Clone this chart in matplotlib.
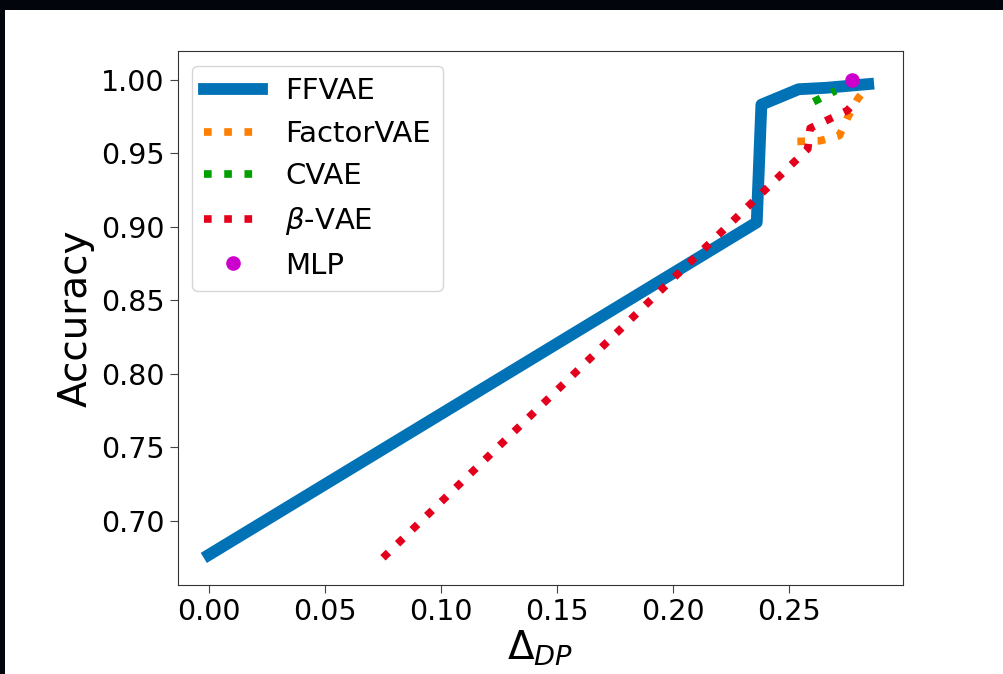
import matplotlib
matplotlib.use("Agg")
import matplotlib.pyplot as plt
from matplotlib.patches import Rectangle

# Data
ffvae_x = [0.0, 0.236, 0.238, 0.254, 0.266, 0.284]
ffvae_y = [0.677, 0.903, 0.983, 0.9935, 0.9945, 0.997]

factorvae_x = [0.2535, 0.2633, 0.2716, 0.2752, 0.2795, 0.281]
factorvae_y = [0.958, 0.9585, 0.962, 0.9745, 0.987, 0.990]

cvae_x = [0.2605, 0.2700]
cvae_y = [0.9850, 0.9925]

betavae_x = [0.075, 0.2580, 0.2590, 0.2670, 0.2750, 0.2790]
betavae_y = [0.675, 0.9530, 0.9670, 0.9730, 0.9790, 0.9860]

mlp_x = [0.277]
mlp_y = [1.000]

xticks = [0.00, 0.05, 0.10, 0.15, 0.20, 0.25]
yticks = [0.70, 0.75, 0.80, 0.85, 0.90, 0.95, 1.00]

W, H = 1004, 674
fig = plt.figure(figsize=(W / 100, H / 100), dpi=100)
fig.patch.set_facecolor("#02060c")
fig.patches.append(Rectangle((5 / W, 0), 1 - 5 / W, (H - 10) / H,
                             transform=fig.transFigure, facecolor="white",
                             edgecolor="none", zorder=-10))

ax = fig.add_axes([177.5 / W, (H - 585) / H, (903 - 177.5) / W, (585 - 51) / H])

ax.plot(ffvae_x, ffvae_y, color="#0072b5", lw=8.5, label="FFVAE")
ax.plot(factorvae_x, factorvae_y, color="#ff7f00", lw=5.5, ls=":", label="FactorVAE")
ax.plot(cvae_x, cvae_y, color="#00a000", lw=5.5, ls=":", label="CVAE")
ax.plot(betavae_x, betavae_y, color="#e4001c", lw=5.5, ls=":", label=r"$\beta$-VAE")
ax.plot(mlp_x, mlp_y, "o", color="#cc00cc", ms=9.5, label="MLP", ls="none")

ax.set_xlim(-0.0135, 0.299)
ax.set_ylim(0.6565, 1.0195)
ax.set_xticks(xticks)
ax.set_yticks(yticks)
ax.set_xticklabels([f"{v:.2f}" for v in xticks])
ax.set_yticklabels([f"{v:.2f}" for v in yticks])
ax.tick_params(labelsize=20.5, length=6, color="#444444")
for s in ax.spines.values():
    s.set_color("#333333")

ax.set_xlabel(r"$\Delta_{DP}$", fontsize=28, labelpad=2)
ax.set_ylabel("Accuracy", fontsize=28)

ax.legend(loc="upper left", fontsize=21)

fig.savefig("out.png", dpi=100, facecolor=fig.get_facecolor())
